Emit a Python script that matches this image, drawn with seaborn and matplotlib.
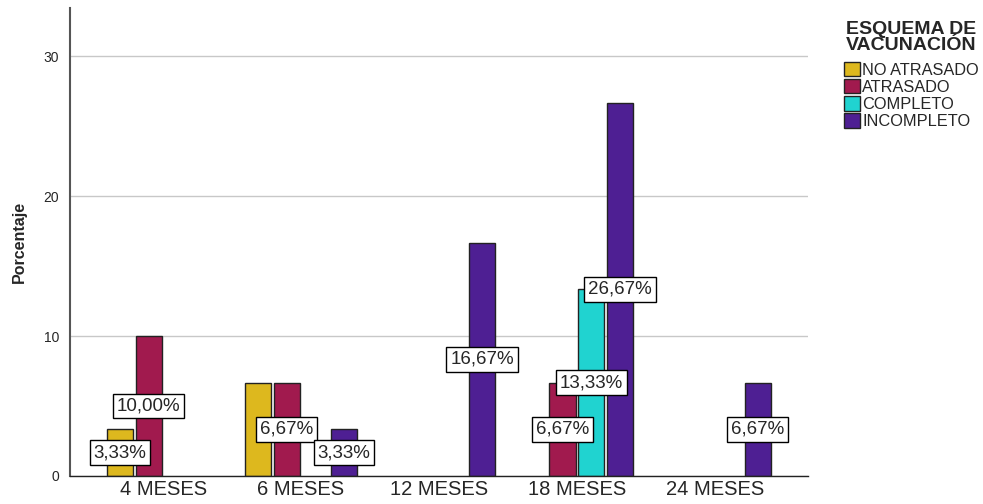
import matplotlib
matplotlib.use("Agg")
import matplotlib.pyplot as plt
import seaborn as sns
import pandas as pd

# Data
edades = ['4 MESES', '6 MESES', '12 MESES', '18 MESES', '24 MESES']
esquemas = ['NO ATRASADO', 'ATRASADO', 'COMPLETO', 'INCOMPLETO']
no_atrasado = [3.33, 6.67, 0, 0, 0]
atrasado    = [10.00, 6.67, 0, 6.67, 0]
completo    = [0, 0, 0, 13.33, 0]
incompleto  = [0, 3.33, 16.67, 26.67, 6.67]
# SPSS hides a label that sits under a neighbour's label (6 MESES, NO ATRASADO)
ocultos = [('NO ATRASADO', '6 MESES')]

colores = ['#DDB81E', '#A11A4E', '#20D3D0', '#4E1F93']

df = pd.DataFrame({'Edad': edades, 'NO ATRASADO': no_atrasado, 'ATRASADO': atrasado,
                   'COMPLETO': completo, 'INCOMPLETO': incompleto})
df = df.melt(id_vars='Edad', var_name='Esquema', value_name='Porcentaje')

sns.set_style("white")
plt.rcParams['font.family'] = ['Liberation Sans', 'DejaVu Sans']

fig = plt.figure(figsize=(9.83, 5.04), dpi=100)
ax = fig.add_axes([0.0712, 0.0556, 0.7508, 0.9284])

sns.barplot(data=df, x='Edad', y='Porcentaje', hue='Esquema', order=edades,
            hue_order=esquemas, palette=colores, width=0.83, gap=0.08,
            edgecolor='#222222', linewidth=1, saturation=1, ax=ax, legend=True)

# boxed value labels at mid-height
for cont, esq, serie in zip(ax.containers, esquemas,
                            [no_atrasado, atrasado, completo, incompleto]):
    labs = []
    for bar, edad, v in zip(cont, edades, serie):
        if v <= 0:
            bar.set_visible(False)
            labs.append('')
        elif (esq, edad) in ocultos:
            labs.append('')
        else:
            labs.append(('%.2f%%' % v).replace('.', ','))
    ax.bar_label(cont, labels=labs, label_type='center', fontsize=13.5,
                 bbox=dict(boxstyle='square,pad=0.2', facecolor='white',
                           edgecolor='black', linewidth=1))

ax.set_xlim(-0.675, 4.675)
ax.set_ylim(0, 33.43)
ax.set_yticks([0, 10, 20, 30])
ax.yaxis.grid(True, color='#c8c8c8', linewidth=1)
ax.set_axisbelow(True)
ax.tick_params(axis='both', length=0)
ax.tick_params(axis='y', labelsize=10, pad=8)
ax.tick_params(axis='x', labelsize=14.5, pad=3)
ax.set_xlabel('')
ax.set_ylabel('Porcentaje', fontsize=11.5, fontweight='bold', labelpad=12)
for s in ['top', 'right']:
    ax.spines[s].set_visible(False)
ax.spines['left'].set_color('#555555')
ax.spines['left'].set_linewidth(1.5)
ax.spines['bottom'].set_color('#222222')
ax.spines['bottom'].set_linewidth(1)

leg = ax.legend(title='ESQUEMA DE\nVACUNACIÓN', loc='upper left',
                bbox_to_anchor=(0.852, 0.972), bbox_transform=fig.transFigure,
                frameon=False, fontsize=11.8, handlelength=0.95, handleheight=0.95,
                handletextpad=0.15, labelspacing=0.08, borderaxespad=0)
leg.get_title().set_fontweight('bold')
leg.get_title().set_fontsize(14)
leg.get_title().set_linespacing(0.95)
leg._legend_box.align = 'center'
leg._legend_box.sep = 6

fig.savefig('out.png', dpi=100)
